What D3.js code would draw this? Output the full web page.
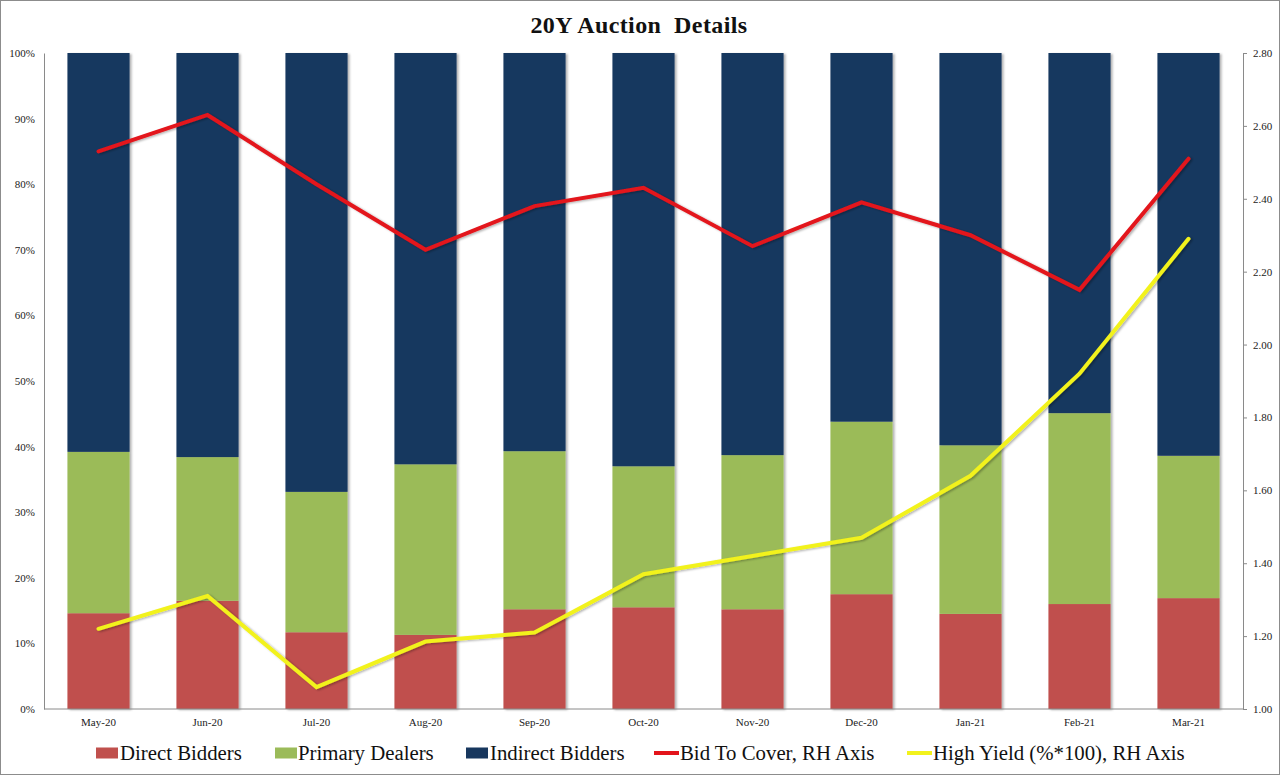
<!DOCTYPE html>
<html><head><meta charset="utf-8">
<script src="https://cdn.jsdelivr.net/npm/d3@7"></script>
<style>
html,body{margin:0;padding:0;background:#fff;}
svg{display:block;font-family:"Liberation Serif","Times New Roman",serif;}
</style></head>
<body>
<svg id="chart" width="1280" height="775"></svg>
<script>
const categories = ["May-20","Jun-20","Jul-20","Aug-20","Sep-20","Oct-20","Nov-20","Dec-20","Jan-21","Feb-21","Mar-21"];
const directBidders = [14.6,16.5,11.7,11.3,15.2,15.5,15.2,17.5,14.5,16.0,16.9];
const primaryDealers = [24.6,21.9,21.4,26.0,24.1,21.5,23.5,26.3,25.7,29.1,21.7];
const indirectBidders = categories.map((c,i)=> +(100 - directBidders[i] - primaryDealers[i]).toFixed(1));
const bidToCover = [2.53,2.63,2.44,2.26,2.38,2.43,2.27,2.39,2.30,2.15,2.51];
const highYield = [1.22,1.31,1.06,1.185,1.21,1.37,1.42,1.47,1.64,1.92,2.29];
const leftTicks = [0,10,20,30,40,50,60,70,80,90,100];
const rightTicks = [1.0,1.2,1.4,1.6,1.8,2.0,2.2,2.4,2.6,2.8];
const seriesNames = ["Direct Bidders","Primary Dealers","Indirect Bidders"];
const lineNames = ["Bid To Cover, RH Axis","High Yield (%*100), RH Axis"];

const colors = {"Direct Bidders":"#C0504D","Primary Dealers":"#9BBB59","Indirect Bidders":"#17375E"};
const lineColors = ["#E3141B","#F2F21C"];

const svg = d3.select("#chart");
const W=1280,H=775;
const m={left:44,right:37,top:53,bottom:66};
const x0=m.left, x1=W-m.right, yTop=m.top, yBot=H-m.bottom;

// frame
svg.append("rect").attr("x",0.5).attr("y",0.5).attr("width",W-1).attr("height",H-1)
  .attr("fill","#fff").attr("stroke","#8c8c8c").attr("stroke-width",1);

const defs = svg.append("defs");
const f = defs.append("filter").attr("id","sh").attr("x","-20%").attr("y","-5%").attr("width","140%").attr("height","110%");
f.append("feDropShadow").attr("dx",2).attr("dy",1).attr("stdDeviation",1.2).attr("flood-color","#000").attr("flood-opacity",0.3);

const x = d3.scaleBand().domain(categories).range([x0,x1]).paddingInner(0.43).paddingOuter(0.215);
const yL = d3.scaleLinear().domain([0,100]).range([yBot,yTop]);
const yR = d3.scaleLinear().domain([1.0,2.8]).range([yBot,yTop]);

// title
svg.append("text").attr("x",639).attr("y",33).attr("text-anchor","middle")
  .attr("font-size",24).attr("font-weight","bold").attr("letter-spacing",0.4)
  .attr("xml:space","preserve").style("white-space","pre")
  .attr("fill","#111").text("20Y Auction  Details");

// stacked bars
const rows = categories.map((c,i)=>({cat:c,"Direct Bidders":directBidders[i],"Primary Dealers":primaryDealers[i],"Indirect Bidders":indirectBidders[i]}));
const stack = d3.stack().keys(seriesNames)(rows);
const gBars = svg.append("g").attr("filter","url(#sh)");
stack.forEach(s=>{
  gBars.selectAll(null).data(s).join("rect")
    .attr("x",d=>x(d.data.cat)).attr("width",x.bandwidth())
    .attr("y",d=>yL(d[1])).attr("height",d=>yL(d[0])-yL(d[1]))
    .attr("fill",colors[s.key]);
});

// axes
const axL = svg.append("g").attr("transform",`translate(${x0},0)`)
  .call(d3.axisLeft(yL).tickValues(leftTicks).tickFormat(d=>d+"%").tickSize(0).tickPadding(9));
const axR = svg.append("g").attr("transform",`translate(${x1},0)`)
  .call(d3.axisRight(yR).tickValues(rightTicks).tickFormat(d3.format(".2f")).tickSize(4).tickPadding(6));
const axB = svg.append("g").attr("transform",`translate(0,${yBot})`)
  .call(d3.axisBottom(x).tickSize(0).tickPadding(9));
[axL,axR,axB].forEach(a=>{
  a.select(".domain").attr("stroke","#8a8a8a");
  a.selectAll(".tick line").attr("stroke","#8a8a8a");
  a.selectAll("text").attr("font-family","Liberation Serif, serif").attr("font-size",11).attr("fill","#222");
});
axB.select(".domain").attr("d",`M${x0},0H${x1}`);

// lines
const line = d3.line().x((d,i)=>x(categories[i])+x.bandwidth()/2).y(d=>yR(d));
const gLines = svg.append("g").attr("filter","url(#sh)");
[bidToCover,highYield].forEach((arr,k)=>{
  gLines.append("path").datum(arr).attr("d",line).attr("fill","none")
    .attr("stroke",lineColors[k]).attr("stroke-width",4).attr("stroke-linejoin","miter").attr("stroke-linecap","round");
});

// legend
const lg = svg.append("g").attr("font-size",20.8).attr("fill","#111");
const legendItems = [
  {name:seriesNames[0],type:"rect",color:colors[seriesNames[0]],x:96,tx:120},
  {name:seriesNames[1],type:"rect",color:colors[seriesNames[1]],x:275,tx:298},
  {name:seriesNames[2],type:"rect",color:colors[seriesNames[2]],x:466,tx:490},
  {name:lineNames[0],type:"line",color:lineColors[0],x:654,tx:680},
  {name:lineNames[1],type:"line",color:lineColors[1],x:907,tx:933}
];
const ly=753;
legendItems.forEach(it=>{
  if(it.type==="rect"){
    lg.append("rect").attr("x",it.x).attr("y",ly-5.5).attr("width",22).attr("height",11).attr("fill",it.color);
  } else {
    lg.append("line").attr("x1",it.x).attr("x2",it.x+25).attr("y1",ly).attr("y2",ly)
      .attr("stroke",it.color).attr("stroke-width",4);
  }
  lg.append("text").attr("x",it.tx).attr("y",ly+7).text(it.name);
});
</script>
</body></html>
